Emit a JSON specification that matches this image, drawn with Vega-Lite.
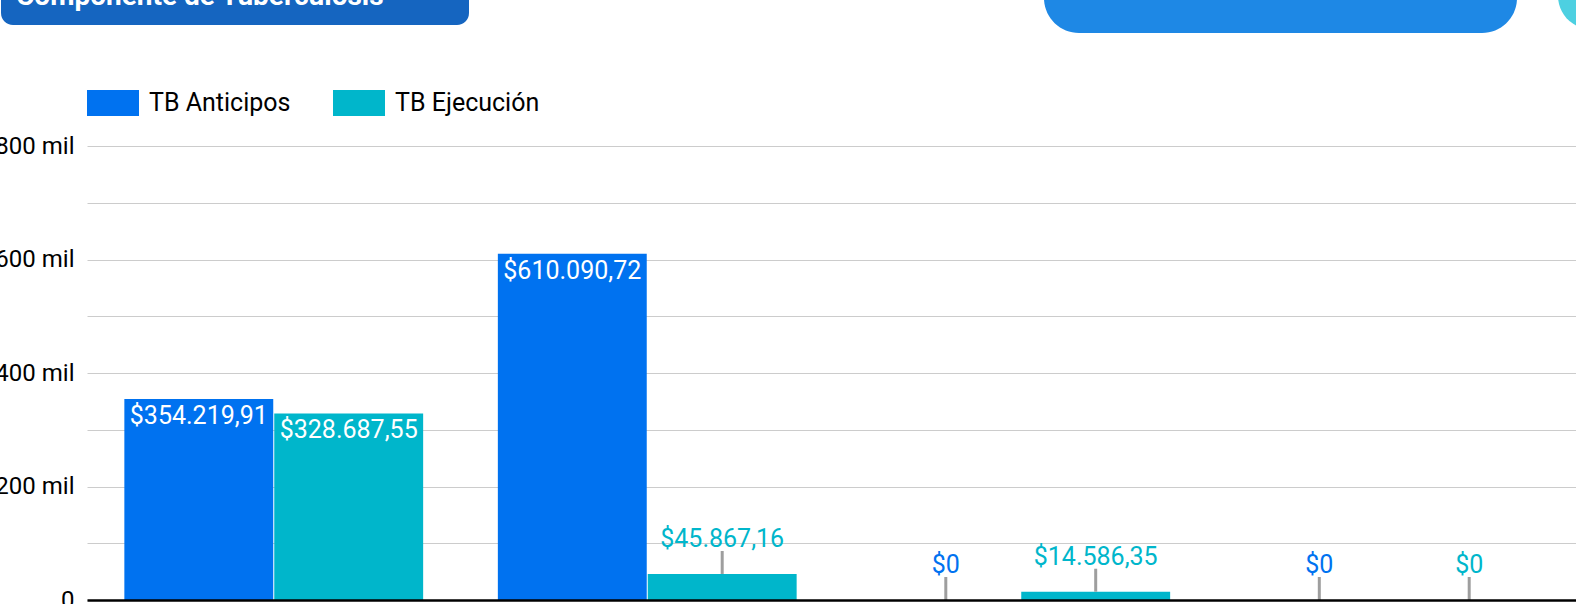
{
  "$schema": "https://vega.github.io/schema/vega-lite/v6.json",
  "padding": {"left": -6, "top": -37, "right": -47, "bottom": 4},
  "background": "white",
  "config": {
    "view": {"stroke": null},
    "font": "Roboto",
    "locale": {"number": {"decimal": ",", "thousands": ".", "grouping": [3], "currency": ["$", ""]}}
  },
  "datasets": {
    "header": [{"name": "Componente de Tuberculosis"}],
    "tb": [
      {"cat": "Periodo 1", "series": "TB Anticipos", "value": 354219.91},
      {"cat": "Periodo 1", "series": "TB Ejecución", "value": 328687.55},
      {"cat": "Periodo 2", "series": "TB Anticipos", "value": 610090.72},
      {"cat": "Periodo 2", "series": "TB Ejecución", "value": 45867.16},
      {"cat": "Periodo 3", "series": "TB Anticipos", "value": 0},
      {"cat": "Periodo 3", "series": "TB Ejecución", "value": 14586.35},
      {"cat": "Periodo 4", "series": "TB Anticipos", "value": 0},
      {"cat": "Periodo 4", "series": "TB Ejecución", "value": 0}
    ]
  },
  "spacing": 44,
  "resolve": {
    "scale": {"color": "independent", "x": "independent", "y": "independent"},
    "legend": {"color": "independent"},
    "axis": {"x": "independent", "y": "independent"}
  },
  "vconcat": [
    {
      "spacing": 575,
      "hconcat": [
        {
          "width": 468,
          "height": 62,
          "data": {"name": "header"},
          "mark": {"type": "point", "opacity": 0},
          "view": {"fill": "#1565C0", "cornerRadius": 12, "stroke": null},
          "title": {
            "text": "Componente de Tuberculosis",
            "orient": "bottom",
            "anchor": "start",
            "frame": "group",
            "offset": -20,
            "baseline": "alphabetic",
            "dx": 15,
            "color": "#ffffff",
            "fontSize": 28,
            "fontWeight": "bold",
            "font": "Roboto"
          }
        },
        {
          "spacing": 41,
          "hconcat": [
            {
              "width": 473,
              "height": 70,
              "data": {"name": "header"},
              "mark": {"type": "point", "opacity": 0},
              "view": {"fill": "#1E88E5", "cornerRadius": 35, "stroke": null}
            },
            {
              "width": 66,
              "height": 66,
              "data": {"name": "header"},
              "mark": {"type": "point", "opacity": 0},
              "view": {"fill": "#4DD0E1", "cornerRadius": 33, "stroke": null}
            }
          ]
        }
      ]
    },
    {
      "spacing": 0,
      "resolve": {
        "scale": {"color": "independent", "x": "independent", "y": "independent"},
        "legend": {"color": "independent"},
        "axis": {"x": "independent", "y": "independent"}
      },
      "hconcat": [
        {
          "width": 86,
          "height": 454,
          "data": {"name": "tb"},
          "mark": {"type": "point", "opacity": 0},
          "encoding": {
            "y": {
              "field": "value",
              "type": "quantitative",
              "scale": {"domain": [0, 800000]},
              "axis": {
                "orient": "left",
                "offset": -86,
                "values": [0, 200000, 400000, 600000, 800000],
                "labelExpr": "datum.value === 0 ? '0' : (datum.value / 1000) + ' mil'",
                "labelFontSize": 24,
                "labelFont": "Roboto",
                "labelColor": "#000000",
                "labelPadding": 13,
                "ticks": false,
                "domain": false,
                "grid": false,
                "title": null
              }
            }
          }
        },
        {
          "width": 1494,
          "height": 454,
          "data": {"name": "tb"},
          "encoding": {
            "x": {
              "field": "cat",
              "type": "nominal",
              "sort": null,
              "scale": {"paddingInner": 0.2, "paddingOuter": 0.1},
              "axis": {
                "labels": false,
                "ticks": false,
                "title": null,
                "grid": false,
                "domainColor": "#000000",
                "domainWidth": 2.5,
                "zindex": 1
              }
            },
            "xOffset": {
              "field": "series",
              "type": "nominal",
              "sort": null,
              "scale": {"paddingInner": 0.0067}
            },
            "y": {
              "field": "value",
              "type": "quantitative",
              "scale": {"domain": [0, 800000]},
              "axis": {
                "values": [0, 100000, 200000, 300000, 400000, 500000, 600000, 700000, 800000],
                "labels": false,
                "ticks": false,
                "domain": false,
                "grid": true,
                "gridColor": "#cccccc",
                "gridWidth": 1,
                "title": null
              }
            }
          },
          "layer": [
            {
              "mark": {"type": "bar"},
              "encoding": {
                "color": {
                  "field": "series",
                  "type": "nominal",
                  "sort": null,
                  "scale": {"domain": ["TB Anticipos", "TB Ejecución"], "range": ["#0072F0", "#00B6CB"]},
                  "legend": {
                    "orient": "top",
                    "title": null,
                    "symbolType": "M-1,-0.5H1V0.5H-1Z",
                    "symbolSize": 2704,
                    "symbolStrokeWidth": 0,
                    "symbolOpacity": 1,
                    "labelFontSize": 25,
                    "labelFont": "Roboto",
                    "labelColor": "#000000",
                    "labelOffset": 10,
                    "columnPadding": 42,
                    "offset": 30,
                    "padding": 0
                  }
                }
              }
            },
            {
              "transform": [{"filter": "datum.value >= 100000"}],
              "mark": {"type": "text", "baseline": "middle", "dy": 17, "fontSize": 25, "font": "Roboto", "color": "#ffffff"},
              "encoding": {
                "text": {"field": "value", "type": "quantitative", "format": "$,.2f"}
              }
            },
            {
              "transform": [{"filter": "datum.value < 100000"}],
              "mark": {"type": "rule", "y2Offset": -23, "color": "#9E9E9E", "strokeWidth": 3},
              "encoding": {
                "y2": {"field": "value"}
              }
            },
            {
              "transform": [{"filter": "datum.value < 100000"}],
              "mark": {"type": "text", "baseline": "middle", "dy": -35, "fontSize": 25, "font": "Roboto"},
              "encoding": {
                "text": {
                  "condition": {"test": "datum.value === 0", "value": "$0"},
                  "field": "value",
                  "type": "quantitative",
                  "format": "$,.2f"
                },
                "color": {"field": "series", "type": "nominal", "sort": null, "legend": null}
              }
            }
          ]
        }
      ]
    }
  ]
}
